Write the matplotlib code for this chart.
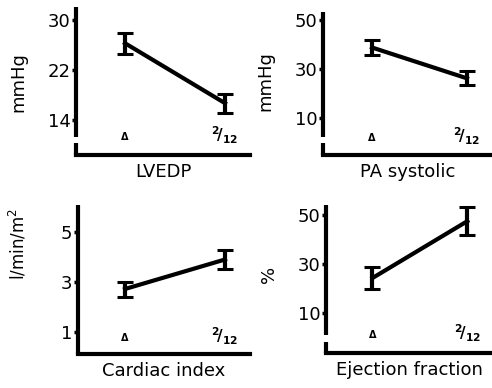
import matplotlib
matplotlib.use('Agg')
import matplotlib.pyplot as plt

# Values: before (Δ) and after 2/12
groups = ['Δ', r'$\mathbf{^{2}\!/_{12}}$']

lvedp_mean = [26.3, 16.7]
lvedp_err = [1.7, 1.5]
pa_mean = [38.8, 26.2]
pa_err = [3.2, 2.9]
ci_mean = [2.72, 3.9]
ci_err = [0.3, 0.38]
ef_mean = [24.3, 47.5]
ef_err = [4.5, 5.7]

titles = ['LVEDP', 'PA systolic', 'Cardiac index', 'Ejection fraction']
ylabels = ['mmHg', 'mmHg', r'l/min/m$^2$', '%']
ylabel_sizes = [13, 13, 12, 13]
yticks = [[14, 22, 30], [10, 30, 50], [1, 3, 5], [10, 30, 50]]
means = [lvedp_mean, pa_mean, ci_mean, ef_mean]
errs = [lvedp_err, pa_err, ci_err, ef_err]

W, H = 492, 388
fig = plt.figure(figsize=(W / 100, H / 100), dpi=100)

# axes boxes in pixels: left, right, top, bottom, plus ylim / xlim
boxes = [
    dict(l=76, r=250, t=7, b=155, ylim=(8.4, 32.1), xlim=(-0.49, 1.25), brk=(0.081, 0.122), yl=(-0.28, 0.49)),
    dict(l=323, r=492, t=12, b=155, ylim=(-5.1, 53.3), xlim=(-0.516, 1.263), brk=(0.081, 0.125), yl=(-0.285, 0.52)),
    dict(l=78, r=250, t=205, b=354, ylim=(0.12, 6.08), xlim=(-0.47, 1.25), brk=None, yl=(-0.29, 0.74)),
    dict(l=326, r=492, t=205, b=353, ylim=(-6.3, 54.1), xlim=(-0.49, 1.26), brk=(0.074, 0.122), yl=(-0.29, 0.53)),
]

for i, bx in enumerate(boxes):
    ax = fig.add_axes([bx['l'] / W, 1 - bx['b'] / H,
                       (bx['r'] - bx['l']) / W, (bx['b'] - bx['t']) / H])
    ax.set_facecolor('none')
    x = [0, 1]
    ax.errorbar(x, means[i], yerr=errs[i], color='black', lw=3,
                elinewidth=3, capsize=6, capthick=2.2, zorder=3)
    ax.set_xlim(*bx['xlim'])
    ax.set_ylim(*bx['ylim'])
    ax.set_yticks(yticks[i])
    ax.set_xticks([])
    ax.tick_params(axis='y', direction='out', length=3, width=2.5,
                   labelsize=13, pad=1)
    for s in ['top', 'right', 'left']:
        ax.spines[s].set_visible(False)
    ax.spines['bottom'].set_linewidth(3)

    # left axis drawn by hand so it can have a break
    if bx['brk'] is None:
        ax.plot([0, 0], [0, 1], color='black', lw=3, transform=ax.transAxes,
                clip_on=False, solid_capstyle='butt')
    else:
        lo, hi = bx['brk']
        ax.plot([0, 0], [hi, 1], color='black', lw=3, transform=ax.transAxes,
                clip_on=False, solid_capstyle='butt')
        ax.plot([0, 0], [0, lo], color='black', lw=3, transform=ax.transAxes,
                clip_on=False, solid_capstyle='butt')

    # group labels inside the plot
    ylab = 0.12 if bx['brk'] else 0.11
    ax.text(0, ylab, groups[0], transform=ax.get_xaxis_transform(),
            ha='center', va='center', fontsize=7, fontweight='bold')
    ax.text(1, ylab + 0.01, groups[1], transform=ax.get_xaxis_transform(),
            ha='center', va='center', fontsize=11)

    ax.set_xlabel(titles[i], fontsize=13, labelpad=6)
    ax.set_ylabel(ylabels[i], fontsize=ylabel_sizes[i])
    ax.yaxis.set_label_coords(*bx['yl'])

plt.savefig('out.png', dpi=100)
